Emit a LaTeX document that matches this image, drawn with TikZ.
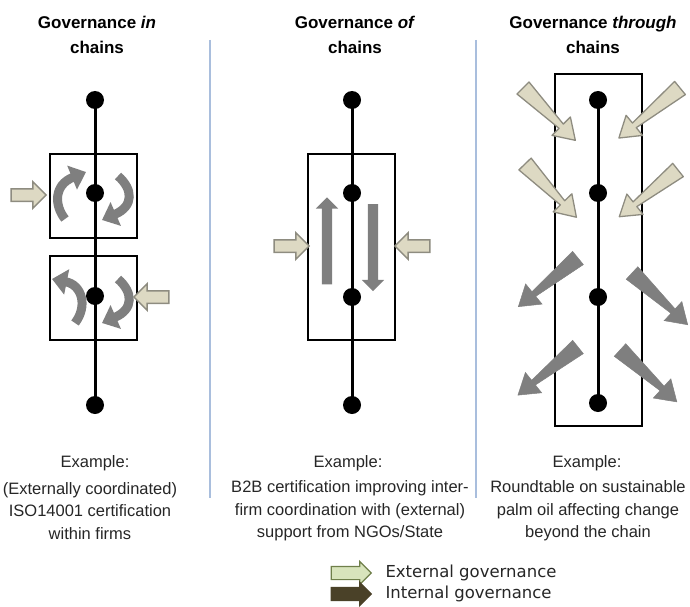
\documentclass[tikz,border=0pt]{standalone}
\usepackage{fontspec}
\setmainfont{Liberation Sans}
\newfontfamily\legendfont{DejaVu Sans}
\usetikzlibrary{shapes.arrows, arrows.meta}
\definecolor{extfill}{HTML}{DDD9C3}
\definecolor{extline}{HTML}{8E8C80}
\definecolor{intgrey}{HTML}{7F7F7F}
\definecolor{sepblue}{HTML}{A9BEDD}
\definecolor{legext}{HTML}{D8E4BC}
\definecolor{legextline}{HTML}{6F7F4A}
\definecolor{legint}{HTML}{4A4128}
\definecolor{legtext}{HTML}{262626}
\tikzstyle{dot}=[circle, fill=black, inner sep=0pt, minimum size=18pt]
\tikzstyle{box}=[draw, line width=1.8pt, inner sep=0pt]
\tikzstyle{spine}=[line width=3pt]
\tikzstyle{sep}=[draw=sepblue, line width=1.4pt]
\tikzstyle{extarrow}=[single arrow, draw=extline, fill=extfill, line width=1.5pt, inner sep=5.5pt, minimum height=35pt, single arrow head extend=7pt]
\tikzstyle{intarrow}=[single arrow, fill=intgrey, inner sep=5pt, minimum height=87pt, single arrow head extend=6pt]
\tikzstyle{curly}=[draw=intgrey, line width=9pt, -{Triangle[width=25pt,length=15pt]}]
\tikzstyle{extwedge}=[draw=extline, fill=extfill, line width=1.3pt, line join=round]
\tikzstyle{intwedge}=[fill=intgrey, draw=intgrey, line width=0.5pt]
\tikzstyle{title}=[align=center, font=\fontsize{17}{25}\selectfont\bfseries]
\tikzstyle{txt}=[align=center, text=legtext, font=\fontsize{16.5}{22.5}\selectfont]
\tikzstyle{legtxt}=[anchor=west, text=legtext, font=\legendfont\fontsize{16.5}{21}\selectfont]
\newcommand{\wedgearrow}[4]{%
  \begin{scope}[shift={#2}, rotate=#3]
    \filldraw[#1] (0,-8.5) -- (#4-20,-3) -- (#4-20,-13) -- (#4,0)
      -- (#4-20,13) -- (#4-20,3) -- (0,8.5) -- cycle;
  \end{scope}}

\begin{document}
\begin{tikzpicture}[x=1pt, y=-1pt]
	\useasboundingbox (0,0) rectangle (690,607);

	\draw[sep] (210,40) -- (210,498);
	\draw[sep] (476,40) -- (476,498);

	% governance in chains
	\begin{scope}
	\node[title] (t1) at (97,35) {Governance \textit{in}\\chains};
	\node[box, minimum width=87pt, minimum height=84pt] (b1) at (93.5,196) {};
	\node[box, minimum width=87pt, minimum height=84pt] (b2) at (93.5,298) {};
	\node[dot] (a1) at (95,100) {};
	\node[dot] (a2) at (95,193) {};
	\node[dot] (a3) at (95,296) {};
	\node[dot] (a4) at (95,405) {};
	\draw[spine] (a1.center) -- (a4.center);
	\draw[curly] (65,219) .. controls (54,205) and (54,185) .. (86,172);
	\draw[curly] (118,176) .. controls (133,189) and (134,206) .. (102,220);
	\draw[curly] (75,323) .. controls (88,306) and (82,285) .. (52,279);
	\draw[curly] (118,279) .. controls (133,292) and (134,309) .. (102,323);
	\node[extarrow] (e1) at (25.5,195) {};
	\node[extarrow, rotate=180] (e2) at (154.5,297) {};
	\node[txt] (x1) at (95,463) {Example:};
	\node[txt] (d1) at (90,511) {(Externally coordinated)\\ISO14001 certification\\within firms};
	\end{scope}

	% governance of chains
	\begin{scope}
	\node[title] (t2) at (355,35) {Governance \textit{of}\\chains};
	\node[box, minimum width=87pt, minimum height=186pt] (b3) at (351.5,247) {};
	\node[dot] (c1) at (352,100) {};
	\node[dot] (c2) at (352,193) {};
	\node[dot] (c3) at (352,297) {};
	\node[dot] (c4) at (352,405) {};
	\draw[spine] (c1.center) -- (c4.center);
	\node[intarrow, rotate=90] (i1) at (327,243.5) {};
	\node[intarrow, rotate=-90] (i2) at (373,245) {};
	\node[extarrow] (e3) at (288.5,246) {};
	\node[extarrow, rotate=180] (e4) at (415.5,246) {};
	\node[txt] (x2) at (348,463) {Example:};
	\node[txt] (d2) at (350,511) {B2B certification improving inter-\\firm coordination with (external)\\support from NGOs/State};
	\end{scope}

	% governance through chains
	\begin{scope}
	\node[title] (t3) at (593,35) {Governance \textit{through}\\chains};
	\node[box, minimum width=87pt, minimum height=352pt] (b4) at (598.5,250) {};
	\node[dot] (f1) at (598,100) {};
	\node[dot] (f2) at (598,193) {};
	\node[dot] (f3) at (598,297) {};
	\node[dot] (f4) at (598,403) {};
	\draw[spine] (f1.center) -- (f4.center);
	\wedgearrow{extwedge}{(523,88)}{-45}{74}
	\wedgearrow{extwedge}{(680,88)}{-140.7}{79}
	\wedgearrow{extwedge}{(525,164)}{-46}{74}
	\wedgearrow{extwedge}{(678,170)}{-141.5}{75}
	\wedgearrow{intwedge}{(578,258)}{-140.8}{77}
	\wedgearrow{intwedge}{(632,273)}{-42.9}{76}
	\wedgearrow{intwedge}{(578,347)}{-141.3}{77}
	\wedgearrow{intwedge}{(620,350)}{-42.4}{77}
	\node[txt] (x3) at (587,463) {Example:};
	\node[txt] (d3) at (588,511) {Roundtable on sustainable\\palm oil affecting change\\beyond the chain};
	\end{scope}

	% legend
	\node[single arrow, draw=legextline, fill=legext, line width=1.2pt, inner sep=6pt, minimum height=40pt, single arrow head extend=5pt] (l1) at (348,573) {};
	\node[single arrow, draw=legint, fill=legint, line width=1.2pt, inner sep=6pt, minimum height=40pt, single arrow head extend=5pt] (l2) at (348,594) {};
	\node[legtxt] (lt1) at (382,573) {External governance};
	\node[legtxt] (lt2) at (382,594) {Internal governance};

\end{tikzpicture}
\end{document}
